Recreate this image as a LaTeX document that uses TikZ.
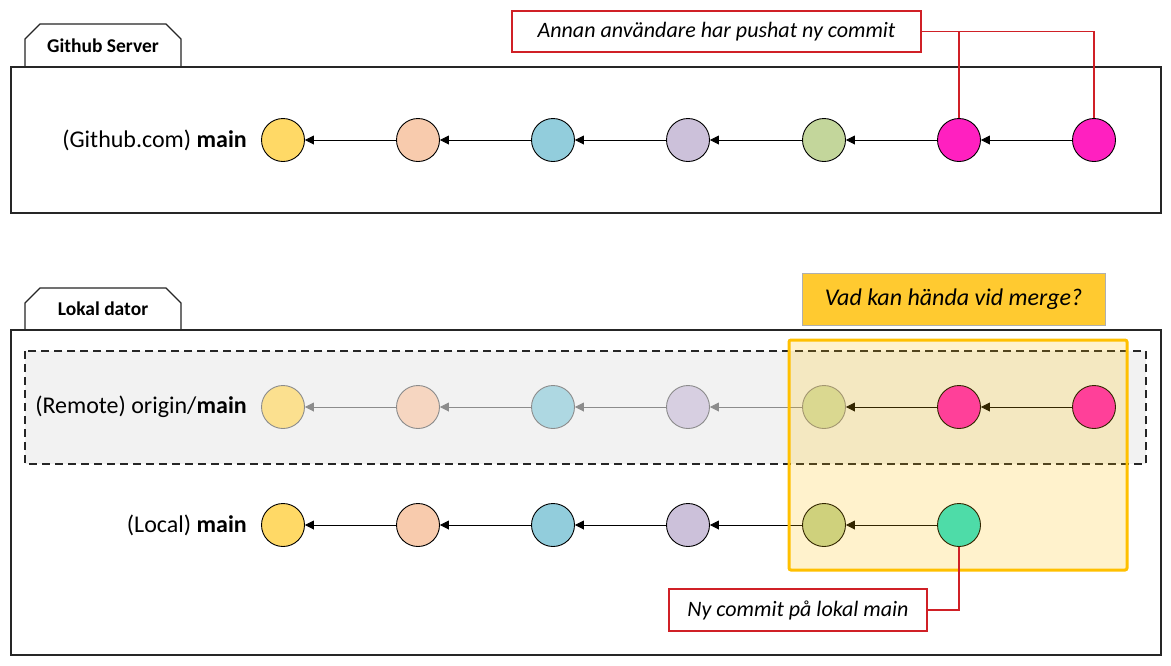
\documentclass[tikz,border=0pt]{standalone}
\usepackage{fontspec}
\setmainfont{Carlito}
\usetikzlibrary{arrows.meta}
\definecolor{cyel}{HTML}{FFD966}
\definecolor{cpea}{HTML}{F8CBAD}
\definecolor{cblu}{HTML}{92CDDC}
\definecolor{cpur}{HTML}{CCC1DA}
\definecolor{cgrn}{HTML}{C3D69B}
\definecolor{cmag}{HTML}{FF20C0}
\definecolor{ctea}{HTML}{22E3D2}
\definecolor{cred}{HTML}{D02026}
\definecolor{cgold}{HTML}{FFC000}
\definecolor{cqbox}{HTML}{FFCA30}
\definecolor{cfade}{HTML}{8C8C8C}
\definecolor{cgbg}{HTML}{F2F2F2}
\definecolor{cframe}{HTML}{262626}
\tikzset{
  commit/.style={circle,draw=black,line width=0.9pt,minimum size=43pt,inner sep=0pt},
  faded/.style={circle,draw=cfade,line width=0.9pt,minimum size=43pt,inner sep=0pt,fill opacity=0.7},
  arr/.style={draw=black,line width=0.8pt,-{Triangle[length=9pt,width=9pt]}},
  farr/.style={draw=cfade,line width=0.8pt,-{Triangle[length=9pt,width=9pt]},color=cfade},
  frame/.style={draw=cframe,line width=1.3pt},
  tabtxt/.style={font=\bfseries\fontsize{19.5}{23}\selectfont},
  rowlbl/.style={anchor=east,font=\fontsize{24}{28}\selectfont,inner sep=0pt},
  callout/.style={draw=cred,line width=1.1pt,fill=white,font=\itshape\fontsize{22}{26}\selectfont,inner sep=0pt},
  redline/.style={draw=cred,line width=1.1pt},
}
\begin{document}
\begin{tikzpicture}[x=1pt,y=-1pt]
\useasboundingbox (0,0) rectangle (1171,665);
\fill[white] (0,0) rectangle (1171,665);
% ---------- Github server ----------
\draw[frame,fill=white] (25,67) -- (25,39) -- (40,24) -- (166,24) -- (181,39) -- (181,67) -- cycle;
\node[tabtxt] (tabg) at (103,46) {Github Server};
\draw[frame] (11,67) rectangle (1161,213);
\node[rowlbl] (lg) at (247,140) {(Github.com) \textbf{main}};
\node[commit,fill=cyel] (g1) at (283,140) {};
\node[commit,fill=cpea] (g2) at (418,140) {};
\node[commit,fill=cblu] (g3) at (553,140) {};
\node[commit,fill=cpur] (g4) at (688,140) {};
\node[commit,fill=cgrn] (g5) at (824,140) {};
\node[commit,fill=cmag] (g6) at (959,140) {};
\node[commit,fill=cmag] (g7) at (1094,140) {};
\foreach \a/\b in {g2/g1,g3/g2,g4/g3,g5/g4,g6/g5,g7/g6} \draw[arr] (\a) -- (\b);
% ---------- Lokal dator ----------
\draw[frame,fill=white] (25,330) -- (25,303) -- (40,288) -- (166,288) -- (181,303) -- (181,330) -- cycle;
\node[tabtxt] (tabl) at (103,309) {Lokal dator};
\draw[frame] (11,330) rectangle (1161,655);
\draw[draw=cframe,line width=1.2pt,dash pattern=on 8pt off 5pt,fill=cgbg] (25,351) rectangle (1146,464);
\node[rowlbl] (lr) at (247,407) {(Remote) origin/\textbf{main}};
\node[faded,fill=cyel] (r1) at (283,407) {};
\node[faded,fill=cpea] (r2) at (418,407) {};
\node[faded,fill=cblu] (r3) at (553,407) {};
\node[faded,fill=cpur] (r4) at (688,407) {};
\node[faded,fill=cgrn] (r5) at (824,407) {};
\node[commit,fill=cmag] (r6) at (959,407) {};
\node[commit,fill=cmag] (r7) at (1094,407) {};
\foreach \a/\b in {r2/r1,r3/r2,r4/r3,r5/r4} \draw[farr] (\a) -- (\b);
\foreach \a/\b in {r6/r5,r7/r6} \draw[arr] (\a) -- (\b);
\node[rowlbl] (ll) at (247,525) {(Local) \textbf{main}};
\node[commit,fill=cyel] (l1) at (283,525) {};
\node[commit,fill=cpea] (l2) at (418,525) {};
\node[commit,fill=cblu] (l3) at (553,525) {};
\node[commit,fill=cpur] (l4) at (688,525) {};
\node[commit,fill=cgrn] (l5) at (824,525) {};
\node[commit,fill=ctea] (l6) at (959,525) {};
\foreach \a/\b in {l2/l1,l3/l2,l4/l3,l5/l4,l6/l5} \draw[arr] (\a) -- (\b);
% ---------- overlay ----------
\draw[draw=cgold,line width=3pt,fill=cgold,fill opacity=0.2,rounded corners=2pt] (789,340) rectangle (1127,570);
\node[draw=cfade!70,line width=1pt,fill=cqbox,minimum width=303pt,minimum height=52pt,inner sep=0pt,font=\itshape\fontsize{24}{28}\selectfont] (q) at (953.5,299) {Vad kan hända vid merge?};
% ---------- callouts ----------
\node[callout,minimum width=409pt,minimum height=41pt] (c1) at (716.5,31.5) {Annan användare har pushat ny commit};
\coordinate (j1) at (g6.north |- c1.east);
\coordinate (j2) at (g7.north |- c1.east);
\draw[redline] (c1.east) -- (j2) -- (g7.north);
\draw[redline] (j1) -- (g6.north);
\node[callout,minimum width=258pt,minimum height=42pt] (c2) at (798,610) {Ny commit på lokal main};
\coordinate (j3) at (l6.south |- c2.east);
\draw[redline] (c2.east) -- (j3) -- (l6.south);
\end{tikzpicture}
\end{document}
